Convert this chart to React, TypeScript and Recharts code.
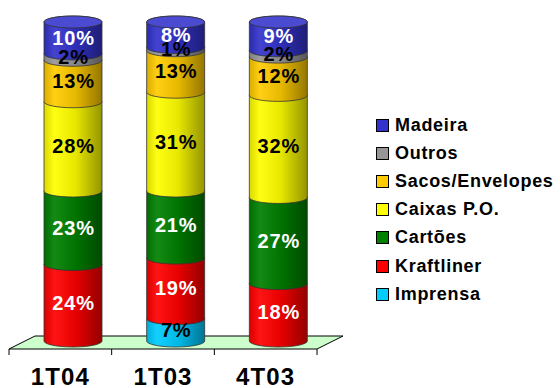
import { BarChart, Bar, XAxis, YAxis, ReferenceArea, Legend, LabelList } from "recharts";

// Mix share by period (%, stacked bottom to top)
const periods = ["1T04", "1T03", "4T03"];
const imprensa = [0, 7, 0];
const kraftliner = [24, 19, 18];
const cartoes = [23, 21, 27];
const caixas = [28, 31, 32];
const sacos = [13, 13, 12];
const outros = [2, 1, 2];
const madeira = [10, 8, 9];

const series = [
  { key: "imprensa", name: "Imprensa", values: imprensa, color: "#00CCFF", text: "#000" },
  { key: "kraftliner", name: "Kraftliner", values: kraftliner, color: "#FF0000", text: "#fff" },
  { key: "cartoes", name: "Cartões", values: cartoes, color: "#008000", text: "#fff" },
  { key: "caixas", name: "Caixas P.O.", values: caixas, color: "#FFFF00", text: "#000" },
  { key: "sacos", name: "Sacos/Envelopes", values: sacos, color: "#FFCC00", text: "#000" },
  { key: "outros", name: "Outros", values: outros, color: "#969696", text: "#000" },
  { key: "madeira", name: "Madeira", values: madeira, color: "#3333CC", text: "#fff" },
];

const data = periods.map((period, i) => {
  const row: Record<string, string | number> = { period };
  series.forEach((s) => (row[s.key] = s.values[i]));
  return row;
});

const FONT = "'Liberation Sans', Arial, sans-serif";
const RY = 6; // ellipse half-height of the cylinder caps
const DEPTH = 13; // horizontal half-depth of the floor

function shade(hex: string, f: number) {
  const n = parseInt(hex.slice(1), 16);
  const c = [(n >> 16) & 255, (n >> 8) & 255, n & 255].map((v) =>
    Math.max(0, Math.min(255, Math.round(f > 1 ? v + (255 - v) * (f - 1) : v * f)))
  );
  return `rgb(${c.join(",")})`;
}

function cylinderShape(color: string, gradId: string, isTop: boolean) {
  return (props: any) => {
    const { x, y, width, height } = props;
    if (!height || height <= 0) return null;
    const rx = width / 2;
    const yb = y + height;
    const d = `M${x},${y} L${x},${yb} A${rx},${RY} 0 0 0 ${x + width},${yb} L${x + width},${y} A${rx},${RY} 0 0 0 ${x},${y} Z`;
    return (
      <g>
        <path d={d} fill={`url(#${gradId})`} stroke="#333" strokeWidth={0.8} />
        {isTop && (
          <ellipse cx={x + rx} cy={y} rx={rx} ry={RY} fill={shade(color, 1.12)} stroke="#333" strokeWidth={0.8} />
        )}
      </g>
    );
  };
}

function pctLabel(color: string) {
  return (p: any) => {
    const vb = p.viewBox ?? p;
    const { x, y, width, height } = vb;
    if (!p.value) return null;
    return (
      <text
        x={x + width / 2 + 0.5}
        y={y + height / 2}
        textAnchor="middle"
        dominantBaseline="central"
        fill={color}
        style={{ fontFamily: FONT, fontWeight: "bold", fontSize: 20, letterSpacing: 0.8 }}
      >
        {p.value}%
      </text>
    );
  };
}

// Light green floor with tick marks along its front edge
function Floor(p: any) {
  const { x, y, width, height } = p;
  const yb = y + height;
  const front = yb + 8;
  const back = yb - 5;
  const pts = [
    [x - DEPTH, front],
    [x + width - DEPTH, front],
    [x + width + DEPTH, back],
    [x + DEPTH, back],
  ]
    .map((q) => q.join(","))
    .join(" ");
  const step = width / periods.length;
  return (
    <g>
      <polygon points={pts} fill="#CCFFCC" stroke="#000" strokeWidth={1} />
      {periods.concat([""]).map((_, i) => (
        <line key={i} x1={x - DEPTH + i * step} x2={x - DEPTH + i * step} y1={front} y2={front + 6} stroke="#000" />
      ))}
    </g>
  );
}

function PeriodTick(p: any) {
  const { x, y, payload } = p;
  return (
    <text
      x={x - DEPTH}
      y={y + 36}
      textAnchor="middle"
      fill="#000"
      style={{ fontFamily: FONT, fontWeight: "bold", fontSize: 24, letterSpacing: 1.1 }}
    >
      {payload.value}
    </text>
  );
}

function LegendBox() {
  return (
    <div style={{ fontFamily: FONT, fontWeight: "bold", fontSize: 18, letterSpacing: 0.7 }}>
      {[...series].reverse().map((s) => (
        <div key={s.key} style={{ display: "flex", alignItems: "center", height: 28.2 }}>
          <span
            style={{
              display: "inline-block",
              width: 11,
              height: 11,
              background: s.color,
              border: "1px solid #000",
              marginRight: 6,
            }}
          />
          <span style={{ color: "#000" }}>{s.name}</span>
        </div>
      ))}
    </div>
  );
}

export default function App() {
  return (
    <div style={{ position: "absolute", left: 0, top: 0, width: 560, height: 388, background: "#fff" }}>
      <BarChart
        width={560}
        height={388}
        data={data}
        margin={{ top: 22, right: 230, bottom: 7, left: 22 }}
        barSize={58}
      >
        <defs>
          {series.map((s) => (
            <linearGradient key={s.key} id={`cyl-${s.key}`} x1="0" y1="0" x2="1" y2="0">
              <stop offset="0%" stopColor={shade(s.color, 0.85)} />
              <stop offset="18%" stopColor={shade(s.color, 1.08)} />
              <stop offset="55%" stopColor={shade(s.color, 0.9)} />
              <stop offset="100%" stopColor={shade(s.color, 0.58)} />
            </linearGradient>
          ))}
        </defs>
        <XAxis dataKey="period" height={40} axisLine={false} tickLine={false} tick={<PeriodTick />} />
        <XAxis xAxisId="lab" dataKey="period" hide />
        <YAxis hide domain={[0, 100]} width={0} />
        <ReferenceArea y1={0} y2={100} ifOverflow="visible" shape={(p: any) => <Floor {...p} />} />
        {series.map((s, i) => (
          <Bar
            key={s.key}
            dataKey={s.key}
            name={s.name}
            stackId="mix"
            fill={s.color}
            isAnimationActive={false}
            shape={cylinderShape(s.color, `cyl-${s.key}`, i === series.length - 1)}
          />
        ))}
        {/* labels sit on their own hidden axis so they paint above every cylinder */}
        {series.map((s) => (
          <Bar
            key={`lab-${s.key}`}
            xAxisId="lab"
            dataKey={s.key}
            stackId="labels"
            fill="none"
            legendType="none"
            isAnimationActive={false}
          >
            <LabelList dataKey={s.key} content={pctLabel(s.text)} />
          </Bar>
        ))}
        <Legend
          layout="vertical"
          align="center"
          verticalAlign="middle"
          wrapperStyle={{ left: 376, top: 111, width: 184 }}
          content={() => <LegendBox />}
        />
      </BarChart>
    </div>
  );
}
